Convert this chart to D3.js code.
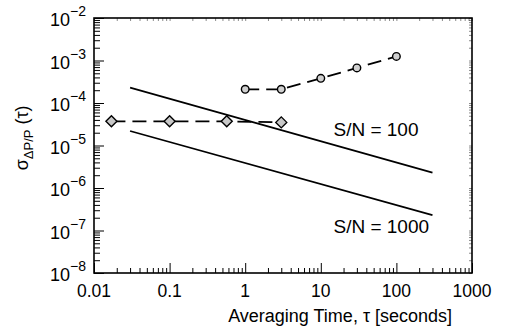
<!DOCTYPE html>
<html>
<head>
<meta charset="utf-8">
<script src="https://cdn.jsdelivr.net/npm/d3@7"></script>
<style>
  body { margin: 0; background: #fff; }
  svg { font-family: "Liberation Sans", Arial, Helvetica, sans-serif; }
  .axis path { display: none; }
  .axis line { stroke: #000; stroke-width: 1; }
</style>
</head>
<body>
<svg id="chart" width="505" height="330"></svg>
<script>
// decades on each axis
var xDecades = [0.01, 0.1, 1, 10, 100, 1000];
var xTickLabels = ["0.01", "0.1", "1", "10", "100", "1000"];
var yExponents = [-8, -7, -6, -5, -4, -3, -2];

// measured Allan deviation, circles
var circleTau = [1, 3, 10, 30, 100];
var circleSigma = [2.1e-4, 2.1e-4, 3.8e-4, 6.7e-4, 1.25e-3];

// measured, diamonds
var diamondTau = [0.017, 0.1, 0.57, 3];
var diamondSigma = [3.7e-5, 3.7e-5, 3.7e-5, 3.5e-5];

// shot-noise limits (end points)
var snTau = [0.03, 300];
var sn100 = [2.3e-4, 2.3e-6];
var sn1000 = [2.2e-5, 2.3e-7];

var margin = { top: 18, right: 33, bottom: 57, left: 94 };
var width = 505 - margin.left - margin.right;
var height = 330 - margin.top - margin.bottom;

var svg = d3.select("#chart")
  .append("g")
  .attr("transform", "translate(" + margin.left + "," + margin.top + ")");

var x = d3.scaleLog().domain([0.01, 1000]).range([0, width]);
var y = d3.scaleLog().domain([1e-8, 1e-2]).range([height, 0]);

// minor tick values
var xMinor = [];
xDecades.slice(0, -1).forEach(function (d) {
  for (var k = 2; k <= 9; k++) xMinor.push(d * k);
});
var yMinor = [];
yExponents.slice(0, -1).forEach(function (e) {
  for (var k = 2; k <= 9; k++) yMinor.push(k * Math.pow(10, e));
});
var yMajor = yExponents.map(function (e) { return Math.pow(10, e); });

// bottom axis, ticks pointing in
svg.append("g").attr("class", "axis")
  .attr("transform", "translate(0," + height + ")")
  .call(d3.axisBottom(x).tickValues(xDecades).tickSize(-10).tickFormat(""));
svg.append("g").attr("class", "axis")
  .attr("transform", "translate(0," + height + ")")
  .call(d3.axisBottom(x).tickValues(xMinor).tickSize(-5).tickFormat(""));

// left axis
svg.append("g").attr("class", "axis")
  .call(d3.axisLeft(y).tickValues(yMajor).tickSize(-10).tickFormat(""));
svg.append("g").attr("class", "axis")
  .call(d3.axisLeft(y).tickValues(yMinor).tickSize(-6).tickFormat(""));

// faint mirrored ticks on top and right
svg.append("g").attr("class", "axis").attr("opacity", 0.45)
  .call(d3.axisTop(x).tickValues(xMinor.concat(xDecades)).tickSize(-3).tickFormat(""));
svg.append("g").attr("class", "axis").attr("opacity", 0.45)
  .attr("transform", "translate(" + width + ",0)")
  .call(d3.axisRight(y).tickValues(yMajor.concat(yMinor)).tickSize(-3).tickFormat(""));

// frame
svg.append("rect")
  .attr("width", width).attr("height", height)
  .attr("fill", "none").attr("stroke", "#000").attr("stroke-width", 1.6);

// x tick labels
svg.selectAll(".xlab")
  .data(xDecades)
  .enter().append("text")
  .attr("x", function (d) { return x(d); })
  .attr("y", height + 24)
  .attr("text-anchor", "middle")
  .attr("font-size", 17.5)
  .text(function (d, i) { return xTickLabels[i]; });

// y tick labels with superscripts
var ylab = svg.selectAll(".ylab")
  .data(yExponents)
  .enter().append("text")
  .attr("x", -8)
  .attr("y", function (d) { return y(Math.pow(10, d)) + 8; })
  .attr("text-anchor", "end")
  .attr("font-size", 18);
ylab.append("tspan").text("10");
ylab.append("tspan")
  .attr("dy", -10)
  .attr("font-size", 14)
  .text(function (d) { return "\u2212" + Math.abs(d); });

// axis titles
svg.append("text")
  .attr("x", x(18))
  .attr("y", height + 49)
  .attr("text-anchor", "middle")
  .attr("font-size", 18)
  .text("Averaging Time, \u03c4 [seconds]");

var yt = svg.append("text")
  .attr("transform", "translate(" + (-66) + "," + (height * 0.47) + ") rotate(-90)")
  .attr("text-anchor", "middle")
  .attr("font-size", 18);
yt.append("tspan").text("\u03c3");
yt.append("tspan").attr("font-size", 13).attr("dy", 5).text("\u0394P/P");
yt.append("tspan").attr("dy", -5).text(" (\u03c4)");

// shot-noise lines
var line = d3.line()
  .x(function (d) { return x(d[0]); })
  .y(function (d) { return y(d[1]); });

[sn100, sn1000].forEach(function (s) {
  svg.append("path")
    .datum(snTau.map(function (t, i) { return [t, s[i]]; }))
    .attr("d", line)
    .attr("fill", "none")
    .attr("stroke", "#000")
    .attr("stroke-width", 1.6);
});

svg.append("text")
  .attr("x", x(snTau[1]) - 99)
  .attr("y", y(sn100[1]) - 37)
  .attr("font-size", 19)
  .text("S/N = 100");
svg.append("text")
  .attr("x", x(snTau[1]) - 99)
  .attr("y", y(sn1000[1]) + 18)
  .attr("font-size", 19)
  .text("S/N = 1000");

// dashed measured series
var circleData = circleTau.map(function (t, i) { return [t, circleSigma[i]]; });
var diamondData = diamondTau.map(function (t, i) { return [t, diamondSigma[i]]; });

[circleData, diamondData].forEach(function (dat) {
  svg.append("path")
    .datum(dat)
    .attr("d", line)
    .attr("fill", "none")
    .attr("stroke", "#000")
    .attr("stroke-width", 1.8)
    .attr("stroke-dasharray", "14,7");
});

svg.selectAll(".circ")
  .data(circleData)
  .enter().append("circle")
  .attr("cx", function (d) { return x(d[0]); })
  .attr("cy", function (d) { return y(d[1]); })
  .attr("r", 3.8)
  .attr("fill", "#d0d0d0")
  .attr("stroke", "#000")
  .attr("stroke-width", 1.4);

svg.selectAll(".diam")
  .data(diamondData)
  .enter().append("path")
  .attr("transform", function (d) { return "translate(" + x(d[0]) + "," + y(d[1]) + ")"; })
  .attr("d", "M0,-5.5L5.5,0L0,5.5L-5.5,0Z")
  .attr("fill", "#c8c8c8")
  .attr("stroke", "#000")
  .attr("stroke-width", 1.4);
</script>
</body>
</html>
